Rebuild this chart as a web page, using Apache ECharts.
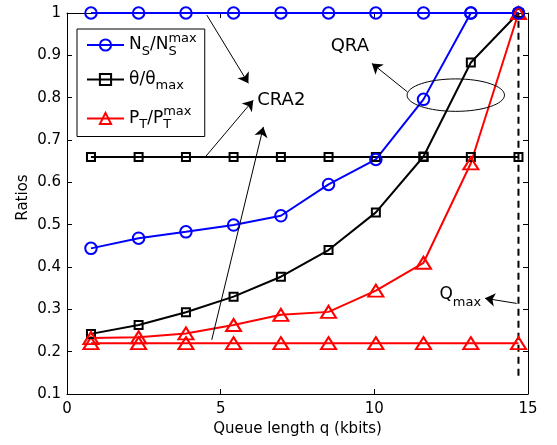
<!DOCTYPE html>
<html><head><meta charset="utf-8">
<script src="https://cdn.jsdelivr.net/npm/echarts@6/dist/echarts.min.js"></script>
<style>html,body{margin:0;padding:0;background:#fff}#c{width:557px;height:445px}</style>
</head><body><div id="c"></div>
<script>
// ---- data ----
const queueKbits = [0.78, 2.33, 3.87, 5.42, 6.96, 8.51, 10.05, 11.60, 13.14, 14.69];
const nsQRA     = [0.444, 0.468, 0.483, 0.499, 0.521, 0.595, 0.654, 0.796, 1.0, 1.0];
const thetaQRA  = [0.242, 0.263, 0.293, 0.330, 0.377, 0.440, 0.529, 0.661, 0.883, 1.0];
const ptQRA     = [0.232, 0.234, 0.243, 0.263, 0.287, 0.294, 0.344, 0.410, 0.645, 1.0];
const nsCRA2    = [1, 1, 1, 1, 1, 1, 1, 1, 1, 1];
const thetaCRA2 = [0.66, 0.66, 0.66, 0.66, 0.66, 0.66, 0.66, 0.66, 0.66, 0.66];
const ptCRA2    = [0.22, 0.22, 0.22, 0.22, 0.22, 0.22, 0.22, 0.22, 0.22, 0.22];
const xRange = [0, 15], xStep = 5;
const yRange = [0.1, 1], yStep = 0.1;
const qmaxX = 14.69, qmaxY = [0.143, 1.0];
// annotations (data coordinates)
const arrowsData = [
  [[4.55, 0.995], [5.90, 0.834]],
  [[4.50, 0.660], [6.06, 0.794]],
  [[4.71, 0.228], [6.39, 0.731]],
  [[11.07, 0.814], [9.92, 0.881]],
  [[14.63, 0.314], [13.60, 0.326]]
];
const ellipseCenter = [12.65, 0.806], ellipseRadii = [1.585, 0.0383];
const labelCRA2 = [6.19, 0.793], labelQRA = [8.58, 0.922], labelQmax = [12.12, 0.334];

const pairs = arr => queueKbits.map((x, i) => [x, arr[i]]);
const BLUE = '#0000ff', BLACK = '#000000', RED = '#ff0000';
const symOf = {circle: ['circle', 11.5], rect: ['rect', 8], tri: ['triangle', [15, 12]]};
function mk(name, arr, color, sym) {
  return {
    name, type: 'line', data: pairs(arr),
    symbol: symOf[sym][0], symbolSize: symOf[sym][1], showSymbol: true,
    lineStyle: {color, width: 2},
    itemStyle: {color: 'rgba(0,0,0,0)', borderColor: color, borderWidth: 2},
    emphasis: {disabled: true}, silent: true
  };
}
const FONT = 'DejaVu Sans';
const axisCommon = {
  axisLine: {show: true, onZero: false, lineStyle: {color: '#000', width: 1}},
  axisTick: {show: true, inside: true, length: 5, lineStyle: {color: '#000'}},
  splitLine: {show: false}
};
const legendNames = {
  ns: '{m|N}{b|S}{m|/N}{b0|S}{p|max}',
  theta: '{m|θ/θ}{b|max}',
  pt: '{m|P}{b|T}{m|/P}{b0|T}{p|max}'
};
const option = {
  animation: false,
  backgroundColor: '#fff',
  grid: {left: 67, right: 29, top: 13, bottom: 51},
  xAxis: [
    Object.assign({type: 'value', min: xRange[0], max: xRange[1], interval: xStep,
      name: 'Queue length q (kbits)', nameLocation: 'middle', nameGap: 25,
      nameTextStyle: {fontFamily: FONT, fontSize: 15, color: '#000'},
      axisLabel: {fontFamily: FONT, fontSize: 15, color: '#000', margin: 8}}, axisCommon),
    Object.assign({type: 'value', position: 'top', min: xRange[0], max: xRange[1], interval: xStep,
      axisLabel: {show: false}}, axisCommon)
  ],
  yAxis: [
    Object.assign({type: 'value', min: yRange[0], max: yRange[1], interval: yStep,
      axisLabel: {fontFamily: FONT, fontSize: 15, color: '#000', margin: 6,
        formatter: v => String(Math.round(v * 10) / 10)}}, axisCommon),
    Object.assign({type: 'value', position: 'right', min: yRange[0], max: yRange[1], interval: yStep,
      axisLabel: {show: false}}, axisCommon)
  ],
  legend: {
    data: ['ns', 'theta', 'pt'], orient: 'vertical', left: 77, top: 29,
    itemWidth: 37, itemHeight: 14, itemGap: 13, padding: [3, 8, 5, 9],
    backgroundColor: '#fff', borderColor: '#000', borderWidth: 1, borderRadius: 0,
    selectedMode: false,
    formatter: n => legendNames[n],
    textStyle: {
      fontFamily: FONT, color: '#000',
      rich: {
        m: {fontFamily: FONT, fontSize: 17, lineHeight: 26, verticalAlign: 'middle', color: '#000'},
        b: {fontFamily: FONT, fontSize: 13, lineHeight: 13, verticalAlign: 'bottom', color: '#000'},
        b0: {fontFamily: FONT, fontSize: 13, lineHeight: 13, verticalAlign: 'bottom', color: '#000', width: 0},
        p: {fontFamily: FONT, fontSize: 13, lineHeight: 13, verticalAlign: 'top', color: '#000'}
      }
    }
  },
  series: [
    mk('nsCRA2', nsCRA2, BLUE, 'circle'),
    mk('thetaCRA2', thetaCRA2, BLACK, 'rect'),
    mk('ptCRA2', ptCRA2, RED, 'tri'),
    mk('theta', thetaQRA, BLACK, 'rect'),
    mk('pt', ptQRA, RED, 'tri'),
    mk('ns', nsQRA, BLUE, 'circle'),
    {
      name: 'qmax', type: 'line', data: qmaxY.map(y => [qmaxX, y]), symbol: 'none',
      lineStyle: {color: '#000', width: 2, type: [7, 5]}, silent: true, z: 3
    },
    {
      name: 'annot', type: 'line', data: [], silent: true,
      markLine: {
        silent: true, symbol: ['none', 'arrow'], symbolSize: 10, animation: false,
        label: {show: false}, emphasis: {disabled: true},
        lineStyle: {color: '#000', width: 1, type: 'solid'},
        data: arrowsData.map(a => [{coord: a[0]}, {coord: a[1]}])
      }
    }
  ]
};
const chart = echarts.init(document.getElementById('c'), null, {renderer: 'canvas'});
chart.setOption(option);
const px = p => chart.convertToPixel({seriesIndex: 0}, p);
const c = px(ellipseCenter);
const e2 = px([ellipseCenter[0] + ellipseRadii[0], ellipseCenter[1] + ellipseRadii[1]]);
const pC = px(labelCRA2), pQ = px(labelQRA), pM = px(labelQmax);
const plotMidY = (px([0, yRange[0]])[1] + px([0, yRange[1]])[1]) / 2;
chart.setOption({
  graphic: [
    {type: 'text', x: 23, y: plotMidY - 6, rotation: Math.PI / 2, silent: true,
      style: {text: 'Ratios', font: '15px "DejaVu Sans"', fill: '#000', align: 'center', verticalAlign: 'middle'}},
    {type: 'ellipse', shape: {cx: c[0], cy: c[1], rx: Math.abs(e2[0] - c[0]), ry: Math.abs(e2[1] - c[1])},
      style: {fill: 'none', stroke: '#000', lineWidth: 1}, silent: true, z: 10},
    {type: 'text', x: pC[0], y: pC[1], silent: true, z: 10,
      style: {text: 'CRA2', font: '18px "DejaVu Sans"', fill: '#000', align: 'left', verticalAlign: 'middle'}},
    {type: 'text', x: pQ[0], y: pQ[1], silent: true, z: 10,
      style: {text: 'QRA', font: '18px "DejaVu Sans"', fill: '#000', align: 'left', verticalAlign: 'middle'}},
    {type: 'text', x: pM[0], y: pM[1], silent: true, z: 10,
      style: {text: '{q|Q}{s|max}', align: 'left', verticalAlign: 'middle', fill: '#000',
        rich: {
          q: {fontFamily: FONT, fontSize: 17, lineHeight: 28, verticalAlign: 'middle', fill: '#000'},
          s: {fontFamily: FONT, fontSize: 13, lineHeight: 13, verticalAlign: 'bottom', fill: '#000'}
        }}}
  ]
});
</script></body></html>
